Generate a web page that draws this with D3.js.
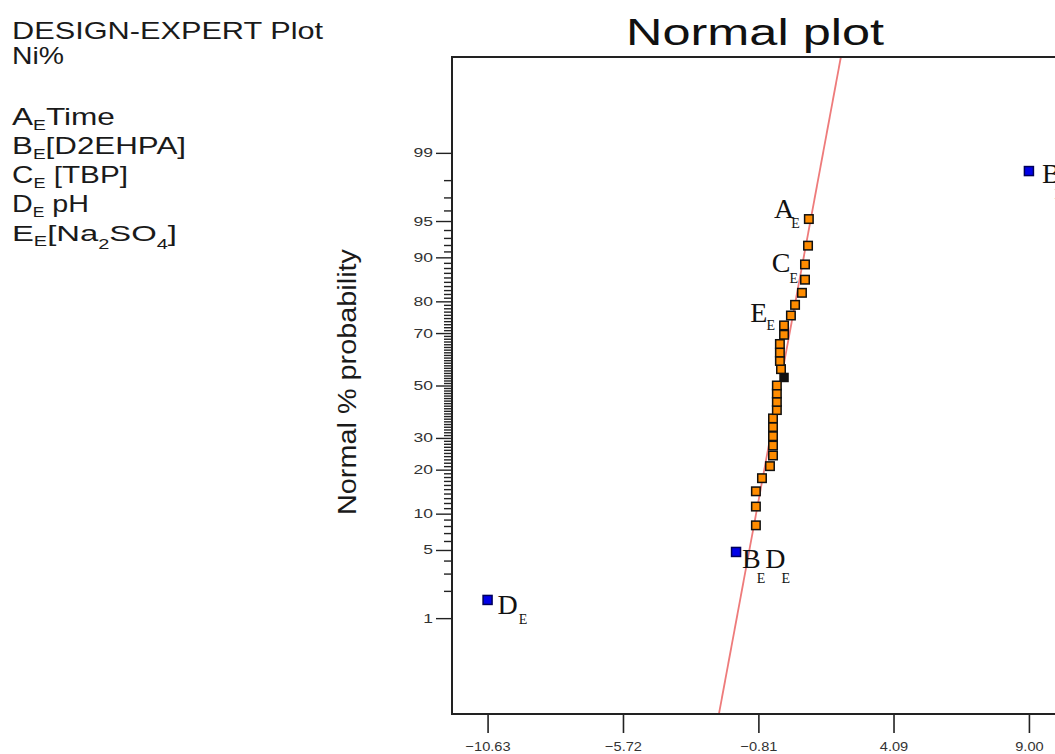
<!DOCTYPE html>
<html>
<head>
<meta charset="utf-8">
<script src="https://cdn.jsdelivr.net/npm/d3@7"></script>
<style>
  body { margin: 0; background: #fff; }
  svg { display: block; font-family: "Liberation Sans", Arial, sans-serif; }
</style>
</head>
<body>
<script>
// header text
const plotTitle = "Normal plot";
const headerLines = ["DESIGN-EXPERT Plot", "Ni%"];
const factorCodes = ["A", "B", "C", "D", "E"];
const factorNames = ["Time", "[D2EHPA]", " [TBP]", " pH", "[Na_2SO_4]"];
const yTitle = "Normal % probability";

// effects (x) and normal % probability (y), in rank order
const effects = [-10.63, -1.62, -0.90, -0.90, -0.90, -0.68, -0.39, -0.28, -0.28, -0.28,
                 -0.28, -0.28, -0.14, -0.14, -0.14, -0.14, 0.12, 0.01, -0.03, -0.03,
                 -0.03, 0.12, 0.12, 0.37, 0.52, 0.77, 0.88, 0.88, 0.99, 1.02, 9.00];
const probs = [1.6, 4.8, 8.1, 11.3, 14.5, 17.7, 21.0, 24.2, 27.4, 30.6,
               33.9, 37.1, 40.3, 43.5, 46.8, 50.0, 53.2, 56.5, 59.7, 62.9,
               66.1, 69.4, 72.6, 75.8, 79.0, 82.3, 85.5, 88.7, 91.9, 95.2, 98.4];
const kinds = ["sig", "sig", "err", "err", "err", "err", "err", "err", "err", "err",
               "err", "err", "err", "err", "err", "err", "center", "err", "err", "err",
               "err", "err", "err", "err", "err", "err", "err", "err", "err", "err", "sig"];
// labelled effects: index into effects, effect name
const labelIndex = [0, 1, 22, 27, 29, 30];
const labelNames = ["D", "BD", "E", "C", "A", "B"];

// normal line through the error effects
const lineMean = -0.03;
const lineSd = 0.673;

// axis ticks
const xTicks = [-10.63, -5.72, -0.81, 4.09, 9.00];
const yMajor = [1, 5, 10, 20, 30, 50, 70, 80, 90, 95, 99];

// inverse normal cdf (Acklam)
function probit(p) {
  const a = [-3.969683028665376e+01, 2.209460984245205e+02, -2.759285104469687e+02, 1.383577518672690e+02, -3.066479806614716e+01, 2.506628277459239e+00];
  const b = [-5.447609879822406e+01, 1.615858368580409e+02, -1.556989798598866e+02, 6.680131188771972e+01, -1.328068155288572e+01];
  const c = [-7.784894002430293e-03, -3.223964580411365e-01, -2.400758277161838e+00, -2.549671010243277e+00, 4.374664141464968e+00, 2.938163982698783e+00];
  const d = [7.784695709041462e-03, 3.224671290700398e-01, 2.445134137142996e+00, 3.754408661907416e+00];
  const pl = 0.02425;
  if (p < pl) {
    const q = Math.sqrt(-2 * Math.log(p));
    return (((((c[0]*q+c[1])*q+c[2])*q+c[3])*q+c[4])*q+c[5]) / ((((d[0]*q+d[1])*q+d[2])*q+d[3])*q+1);
  }
  if (p <= 1 - pl) {
    const q = p - 0.5, r = q * q;
    return (((((a[0]*r+a[1])*r+a[2])*r+a[3])*r+a[4])*r+a[5])*q / (((((b[0]*r+b[1])*r+b[2])*r+b[3])*r+b[4])*r+1);
  }
  const q = Math.sqrt(-2 * Math.log(1 - p));
  return -(((((c[0]*q+c[1])*q+c[2])*q+c[3])*q+c[4])*q+c[5]) / ((((d[0]*q+d[1])*q+d[2])*q+d[3])*q+1);
}

const W = 1055, H = 754;
const frame = {left: 452, top: 57, right: 1064.5, bottom: 714};
const SANS = "'Liberation Sans', Arial, sans-serif";
const SERIF = "'Liberation Serif', 'Times New Roman', serif";

const svg = d3.select("body").append("svg")
    .attr("width", W)
    .attr("height", H);

const x = d3.scaleLinear().domain([-11.92, 10.29]).range([frame.left, frame.right]);
const z = d3.scaleLinear().domain([-3.285, 3.285]).range([frame.bottom, frame.top]);
const y = p => z(probit(p / 100));

// stretch a text horizontally to a given width
function fitWidth(node, target) {
  node.setAttribute("textLength", target);
  node.setAttribute("lengthAdjust", "spacingAndGlyphs");
}
function widen(sel, k) {
  sel.each(function() { fitWidth(this, this.getComputedTextLength() * k); });
}

// ---- header / factor legend
const legend = svg.append("g").attr("fill", "#1a1a1a");
const headerBase = [39, 64];
const headerWidth = [312, 52];
headerLines.forEach((t, i) => {
  const g = legend.append("g");
  g.append("text").attr("font-size", 23).text(t);
  const w = g.node().getBBox().width;
  g.attr("transform", `translate(12,${headerBase[i]}) scale(${headerWidth[i] / w},1)`);
});

const factorBase = [125, 154, 183, 212, 241];
const factorWidth = [103, 174, 116, 77, 165];
factorCodes.forEach((code, i) => {
  const g = legend.append("g");
  const t = g.append("text").attr("font-size", 23);
  t.append("tspan").text(code);
  t.append("tspan").attr("font-size", 14).attr("dy", 5).text("E");
  // split name into normal / subscript pieces ("_" marks a subscript char)
  const name = factorNames[i];
  let buf = "", shift = -5;
  for (let k = 0; k < name.length; k++) {
    if (name[k] === "_") {
      t.append("tspan").attr("dy", shift).text(buf);
      buf = "";
      t.append("tspan").attr("font-size", 14).attr("dy", 8).text(name[k + 1]);
      shift = -8; k++;
    } else {
      buf += name[k];
    }
  }
  if (buf) t.append("tspan").attr("dy", shift).text(buf);
  const w = g.node().getBBox().width;
  g.attr("transform", `translate(12,${factorBase[i]}) scale(${factorWidth[i] / w},1)`);
});

// ---- title
svg.append("text")
    .attr("x", 755).attr("y", 45)
    .attr("text-anchor", "middle")
    .attr("font-size", 37)
    .attr("fill", "#111")
    .text(plotTitle)
    .each(function() { fitWidth(this, 258); });

// ---- y axis title
svg.append("text")
    .attr("transform", "translate(356,382) rotate(-90)")
    .attr("text-anchor", "middle")
    .attr("font-size", 25)
    .attr("fill", "#1a1a1a")
    .text(yTitle)
    .each(function() { fitWidth(this, 266); });

// ---- y axis (normal probability)
const yMinor = d3.range(2, 99).filter(p => !yMajor.includes(p));
const yMinorAxis = svg.append("g")
    .attr("transform", `translate(${frame.left},0)`)
    .call(d3.axisLeft(z).tickValues(yMinor.map(p => probit(p / 100))).tickSize(8).tickFormat(""));
const yAxis = svg.append("g")
    .attr("transform", `translate(${frame.left},0)`)
    .call(d3.axisLeft(z).tickValues(yMajor.map(p => probit(p / 100)))
      .tickFormat((d, i) => yMajor[i]).tickSize(16).tickPadding(3));
[yMinorAxis, yAxis].forEach(a => {
  a.select(".domain").remove();
  a.selectAll("line").attr("stroke", "#222").attr("stroke-width", 1.4);
});
yAxis.selectAll("text")
    .style("font-family", SANS)
    .style("font-size", "12.5px")
    .attr("fill", "#333")
    .call(widen, 1.4);

// ---- x axis
const xAxis = svg.append("g")
    .attr("transform", `translate(0,${frame.bottom})`)
    .call(d3.axisBottom(x).tickValues(xTicks).tickSize(19).tickPadding(8).tickFormat(d3.format(".2f")));
xAxis.select(".domain").remove();
xAxis.selectAll("line").attr("stroke", "#222").attr("stroke-width", 1.6);
xAxis.selectAll("text")
    .style("font-family", SANS)
    .style("font-size", "13.5px")
    .attr("fill", "#333")
    .call(widen, 1.08);

// ---- plot area
svg.append("clipPath").attr("id", "clip")
  .append("rect")
    .attr("x", frame.left).attr("y", frame.top)
    .attr("width", frame.right - frame.left).attr("height", frame.bottom - frame.top);

const plot = svg.append("g").attr("clip-path", "url(#clip)");

// normal line
const zEnds = z.domain();
plot.append("line")
    .attr("x1", x(lineMean + lineSd * zEnds[0])).attr("y1", z(zEnds[0]))
    .attr("x2", x(lineMean + lineSd * zEnds[1])).attr("y2", z(zEnds[1]))
    .attr("stroke", "#ee7b7b")
    .attr("stroke-width", 1.8);

// points
const fills = {err: "#ff8c00", sig: "#0000e8", center: "#111"};
const strokes = {err: "#111", sig: "#00005a", center: "#111"};
const sizes = {err: 8.5, sig: 9, center: 8};
const pts = effects.map((e, i) => ({e, p: probs[i], k: kinds[i]}));
const order = ["center", "err", "sig"];
plot.selectAll("rect.pt")
    .data(pts.slice().sort((a, b) => order.indexOf(a.k) - order.indexOf(b.k)))
  .enter().append("rect")
    .attr("class", "pt")
    .attr("x", d => x(d.e) - sizes[d.k] / 2)
    .attr("y", d => y(d.p) - sizes[d.k] / 2)
    .attr("width", d => sizes[d.k])
    .attr("height", d => sizes[d.k])
    .attr("fill", d => fills[d.k])
    .attr("stroke", d => strokes[d.k])
    .attr("stroke-width", 1.5);

// effect labels (letter + subscript E)
const labelLayout = {
  D:  {dx: 10, dy: 14, anchor: "start", subDx: 1,  subDy: 10},
  BD: {dx: 6,  dy: 16, anchor: "start", subDx: -4, subDy: 15},
  E:  {dx: -9, dy: -3, anchor: "end",   subDx: -1, subDy: 8},
  C:  {dx: -7, dy: 8,  anchor: "end",   subDx: -1, subDy: 11},
  A:  {dx: -9, dy: -1, anchor: "end",   subDx: -3, subDy: 10},
  B:  {dx: 13, dy: 12, anchor: "start", subDx: -6, subDy: 16}
};
labelIndex.forEach((idx, n) => {
  const name = labelNames[n];
  const L = labelLayout[name];
  const t = svg.append("text")
      .attr("x", x(effects[idx]) + L.dx)
      .attr("y", y(probs[idx]) + L.dy)
      .attr("text-anchor", L.anchor)
      .style("font-family", SERIF)
      .style("font-size", "28px")
      .attr("fill", "#111");
  name.split("").forEach((ch, j) => {
    t.append("tspan").attr("dy", j ? -L.subDy : null).text(ch);
    t.append("tspan").style("font-size", "14px").attr("dx", L.subDx).attr("dy", L.subDy).text("E");
  });
});

// frame
svg.append("rect")
    .attr("x", frame.left).attr("y", frame.top)
    .attr("width", frame.right - frame.left).attr("height", frame.bottom - frame.top)
    .attr("fill", "none")
    .attr("stroke", "#222")
    .attr("stroke-width", 2);
</script>
</body>
</html>
